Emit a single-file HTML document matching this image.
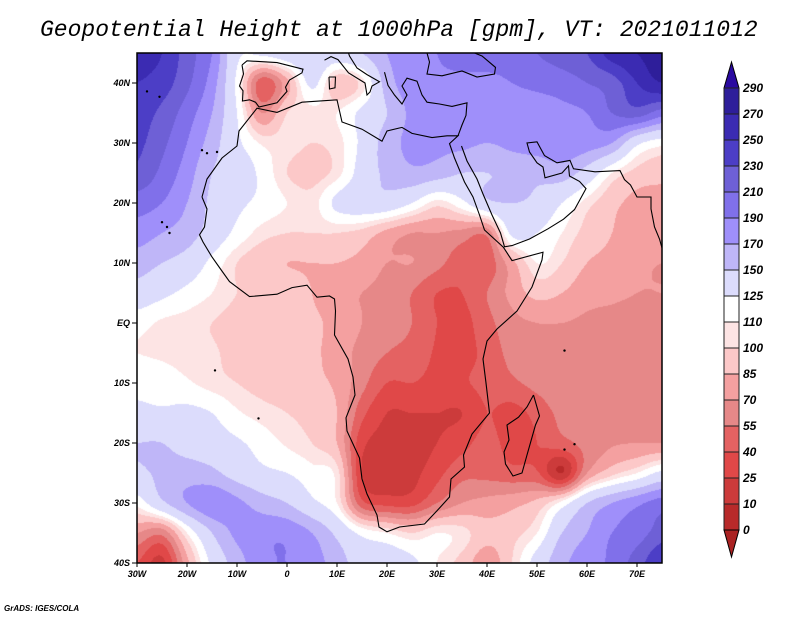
<!DOCTYPE html>
<html><head><meta charset="utf-8"><style>
body{margin:0;background:#fff;width:800px;height:618px;overflow:hidden;position:relative;font-family:"Liberation Sans",sans-serif}
.t{position:absolute;font-style:italic;font-weight:bold;font-size:9px;color:#000}
</style></head><body>
<div style="position:absolute;left:40px;top:17px;font-family:'Liberation Mono',monospace;font-style:italic;font-size:23px;white-space:nowrap">Geopotential Height at 1000hPa [gpm], VT: 2021011012</div>
<canvas id="map" width="525" height="510" style="position:absolute;left:137px;top:53px"></canvas>
<svg id="ov" width="800" height="618" style="position:absolute;left:0;top:0"></svg>
<div class="t" style="left:4px;top:604px;font-size:8px">GrADS: IGES/COLA</div>
<script>
const lons=[-30,-25,-20,-15,-10,-5,0,5,10,15,20,25,30,35,40,45,50,55,60,65,70,75];
const lats=[45,40,35,30,25,20,15,10,5,0,-5,-10,-15,-20,-25,-30,-35,-40];
const field=[
[260,250,220,190,130,130,140,150,140,150,170,180,190,200,200,200,210,220,230,260,270,280],
[250,240,215,180,120,45,80,130,90,105,160,180,185,185,185,190,195,200,210,220,250,270],
[240,225,200,170,125,70,100,105,110,130,150,175,180,185,185,180,180,185,190,210,220,200],
[235,215,190,160,130,108,105,100,105,130,160,175,175,175,170,175,180,185,180,170,130,115],
[225,205,180,150,140,120,100,95,105,135,155,165,160,150,150,155,155,160,140,110,95,90],
[200,190,170,145,130,120,110,105,130,140,140,125,105,120,145,150,145,125,105,90,80,80],
[180,170,160,140,120,105,100,100,100,95,80,70,70,65,60,130,125,110,95,85,75,75],
[160,150,140,120,100,90,85,85,85,80,70,70,60,45,45,80,110,100,85,80,72,70],
[140,130,120,110,100,98,95,85,75,70,65,55,40,40,55,75,90,85,75,72,70,70],
[115,108,105,100,95,92,90,88,80,70,60,55,40,35,50,65,70,70,68,68,68,68],
[110,108,105,102,95,92,90,88,78,65,55,50,38,35,45,60,65,68,68,68,68,68],
[120,118,112,105,100,95,92,88,82,60,40,40,35,38,45,52,60,68,68,68,68,68],
[130,128,130,125,112,105,100,95,85,45,25,25,25,25,40,35,45,60,66,66,68,68],
[150,150,140,135,128,118,108,100,85,30,20,20,25,35,45,35,40,50,60,68,70,70],
[145,155,160,155,140,130,125,115,105,25,15,20,35,50,50,45,42,10,70,95,110,130],
[115,145,170,185,175,160,150,130,110,45,35,35,55,70,75,80,90,115,150,170,185,200],
[70,60,110,150,175,185,185,170,145,120,110,100,110,105,90,95,110,150,170,190,200,220],
[40,20,80,130,160,185,190,180,160,140,140,130,110,95,75,100,135,165,180,195,220,250]];
const levels=[0,10,25,40,55,70,85,100,110,125,150,170,190,210,230,250,270,290];
const colors=['#aa2222','#b82a2a','#cc3b3b','#e04848','#e46262','#e68888','#f4a0a0','#fcc8c8','#fde4e4','#ffffff','#dcdcfc','#bfb6f8','#9f8ffa','#8070ea','#6e60d6','#4c3ec6','#3b2bb2','#2e1e9a','#2a0aa0'];
const latTicks=[40,30,20,10,0,-10,-20,-30,-40];
const latLabels=['40N','30N','20N','10N','EQ','10S','20S','30S','40S'];
const lonTicks=[-30,-20,-10,0,10,20,30,40,50,60,70];
const lonLabels=['30W','20W','10W','0','10E','20E','30E','40E','50E','60E','70E'];
const X=l=>137+5*(l+30), Y=p=>323-6*p;
function hex(c){return [parseInt(c.slice(1,3),16),parseInt(c.slice(3,5),16),parseInt(c.slice(5,7),16)];}
const rgb=colors.map(hex);
function g(j,i){j=Math.max(0,Math.min(lats.length-1,j));i=Math.max(0,Math.min(lons.length-1,i));return field[j][i];}
function cr(p0,p1,p2,p3,t){return p1+0.5*t*(p2-p0+t*(2*p0-5*p1+4*p2-p3+t*(3*(p1-p2)+p3-p0)));}
function val(lo,la){
  const fi=(lo+30)/5, fj=(45-la)/5;
  const i=Math.floor(fi), j=Math.floor(fj), a=fi-i, b=fj-j;
  const r=[];
  for(let m=-1;m<=2;m++)r.push(cr(g(j+m,i-1),g(j+m,i),g(j+m,i+1),g(j+m,i+2),a));
  return cr(r[0],r[1],r[2],r[3],b);
}
const cv=document.getElementById('map'),ctx=cv.getContext('2d'),img=ctx.createImageData(525,510);
for(let y=0;y<510;y++)for(let x=0;x<525;x++){
  const v=val(-30+(x+0.5)/5,45-(y+0.5)/6);
  let k=0;while(k<levels.length&&v>=levels[k])k++;
  const c=rgb[k],o=(y*525+x)*4;img.data[o]=c[0];img.data[o+1]=c[1];img.data[o+2]=c[2];img.data[o+3]=255;
}
ctx.putImageData(img,0,0);
const NS='http://www.w3.org/2000/svg',sv=document.getElementById('ov');
function mk(t,a){const e=document.createElementNS(NS,t);for(const k in a)e.setAttribute(k,a[k]);sv.appendChild(e);return e;}
const africa=[[-17,21],[-16,24],[-13,27.5],[-10,29.5],[-9.6,32],[-6,35.8],[-2,35.1],[3,36.8],[10,37.2],[11,33.5],[15,32.3],[19,30.3],[20,32],[23,32.6],[25,31.6],[29,30.9],[32,31.2],[34.2,31.2],[32.5,29.9],[33.5,27.5],[35.5,23.5],[37.2,21],[38.5,18],[39.5,15.5],[43.3,12.6],[45,10.4],[51.2,11.8],[51,10.5],[49,6],[46,2],[42,-1],[40,-3],[39.2,-6],[39.8,-10],[40.5,-15],[37,-18.5],[35.3,-22],[35.5,-24],[32.8,-26],[32.5,-29],[30,-31.3],[27.5,-33.5],[22.5,-34],[20,-34.8],[18.4,-34],[18,-32],[16,-28.5],[15,-26],[14.5,-22.5],[12,-18],[11.8,-15.8],[13.6,-12],[13.2,-9],[12.2,-6],[9.5,-2],[9.7,2],[9.5,4],[8.5,4.5],[6,4.3],[4,6.3],[1,5.9],[-2,4.8],[-7.5,4.4],[-11.5,6.9],[-13.3,9],[-15,11],[-16.8,13.5],[-17.5,14.7],[-16.5,16],[-16,19],[-17,21]];
const madagascar=[[49.3,-12],[50.5,-15.5],[49.7,-17],[48,-22],[47,-25],[45.2,-25.5],[43.7,-23.5],[43.4,-21.5],[44.4,-19.5],[44,-17],[46.3,-15.7],[48,-14],[49.3,-12]];
const iberia=[[-9,43],[-8,43.7],[-2,43.4],[3.2,42.3],[3,41.7],[0.5,40.5],[-0.3,39.3],[0,38.6],[-2,36.7],[-5.6,36],[-6.3,36.8],[-7.5,37.2],[-8.9,37],[-8.8,38.7],[-9.5,39.5],[-8.7,41.5],[-9,43]];
const arabia=[[34.9,29.5],[36,27],[38,24],[39.2,21.5],[41,18],[42.7,15],[43.5,12.7],[45,12.9],[48.5,14],[52.2,15.7],[55.3,17.3],[57.5,18.9],[59.8,22.4],[58.5,23.6],[56.5,24.5],[56.3,26.2],[55,25],[51.6,24.2],[51.2,26],[50,26.7],[48.5,28.5],[48,30],[50,30.2],[51.5,27.9],[54,26.7],[56.6,27.1],[57.3,25.7],[61.6,25.2],[66.6,25.4],[67.5,23.9],[68.7,23],[70,21],[72.8,21],[72.8,19],[73.5,16],[74.5,14],[75,12.5]];
const italy=[[7.5,43.8],[8.8,44.4],[10.2,43.9],[12.3,41.7],[15.6,40],[16,38],[16.6,38.5],[17,39.5],[18.5,40.2],[16,41.4],[14,42.5],[12.5,44.5],[12.3,45]];
const turkey=[[19.5,41.8],[20.2,39.6],[21.5,38],[23,36.5],[24,38],[23,39.5],[24,40.8],[26,40.3],[27,38],[28,36.8],[30.5,36.5],[33,36.1],[36,36.7],[35.8,34.6],[35,33],[34.2,31.2]];
const blacksea=[[28,45],[28.5,43.5],[28,41.5],[31,41.2],[35,42],[38,41],[41.5,41.5],[41.7,42.6],[39,44.5],[37.5,45]];
const sardinia=[[8.4,41],[9.7,41],[9.6,39.2],[8.5,39],[8.4,41]];
[['coastline-africa',africa],['coastline-madagascar',madagascar],['coastline-iberia',iberia],['coastline-arabia',arabia],['coastline-italy',italy],['coastline-levant',turkey],['coastline-black-sea',blacksea],['coastline-sardinia',sardinia]].forEach(([n,pts])=>{
  const e=mk('polyline',{points:pts.map(p=>X(p[0]).toFixed(1)+','+Y(p[1]).toFixed(1)).join(' '),fill:'none',stroke:'#000','stroke-width':1.1});
  
  
});
const islands=[[-16,28.3],[-14,28.5],[-17,28.8],[-24,16],[-23.5,15],[-25,16.8],[-28,38.6],[-25.5,37.7],[-5.7,-15.9],[-14.4,-7.9],[57.5,-20.2],[55.5,-21.1],[55.5,-4.6]];
islands.forEach(p=>{
  const e=mk('circle',{cx:X(p[0]),cy:Y(p[1]),r:1.2,fill:'#000'});
  
  
});
const fr=mk('rect',{x:137,y:53,width:525,height:510,fill:'none',stroke:'#000','stroke-width':1.5});


latTicks.forEach((t,i)=>{
  mk('line',{x1:132,x2:137,y1:Y(t),y2:Y(t),stroke:'#000'});
  const e=mk('text',{x:130,y:Y(t)+3,'text-anchor':'end','font-size':9,'font-style':'italic','font-weight':'bold','font-family':'Liberation Sans'});
  e.textContent=latLabels[i];
  
  
});
lonTicks.forEach((t,i)=>{
  mk('line',{x1:X(t),x2:X(t),y1:563,y2:567,stroke:'#000'});
  const e=mk('text',{x:X(t),y:577,'text-anchor':'middle','font-size':9,'font-style':'italic','font-weight':'bold','font-family':'Liberation Sans'});
  e.textContent=lonLabels[i];
  
  
});
const bx=724,bw=15,cbTop=88,bh=26,n=levels.length;
const up=mk('polygon',{points:`${bx},${cbTop} ${bx+bw},${cbTop} ${bx+bw/2},62`,fill:colors[n],stroke:'#000'});


for(let k=n-1;k>=1;k--){
  const yy=cbTop+(n-1-k)*bh;
  const r=mk('rect',{x:bx,y:yy,width:bw,height:bh,fill:colors[k],stroke:'#222','stroke-width':1});
  
  
}
const cbBot=cbTop+(n-1)*bh;
const dn=mk('polygon',{points:`${bx},${cbBot} ${bx+bw},${cbBot} ${bx+bw/2},557`,fill:colors[0],stroke:'#000'});


for(let k=0;k<n;k++){
  const yy=cbTop+(n-1-k)*bh;
  const e=mk('text',{x:743,y:yy+4,'font-size':12,'font-style':'italic','font-weight':'bold','font-family':'Liberation Sans'});
  e.textContent=levels[k];
  
  
}
</script>
</body></html>
